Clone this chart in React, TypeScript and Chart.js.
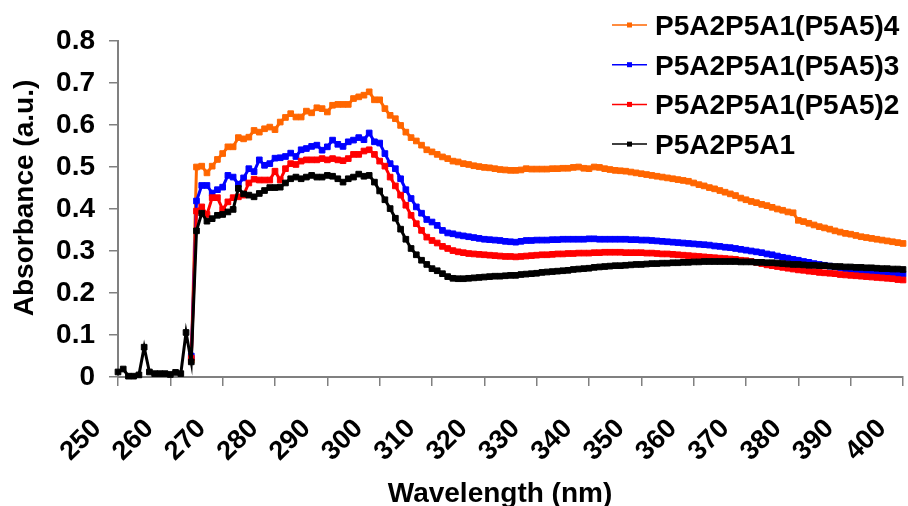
import React, { useEffect, useRef } from 'react';
import { Chart, registerables } from 'chart.js';

Chart.register(...registerables);

const FONT = "'Liberation Sans', Arial, Helvetica, sans-serif";

// Wavelength grid (nm), 1 nm steps
const WL_START_BLACK = 250;
const WL_START_OTHERS = 264;

const seriesLabels = ['P5A2P5A1', 'P5A2P5A1(P5A5)2', 'P5A2P5A1(P5A5)3', 'P5A2P5A1(P5A5)4'];
const seriesColors = ['#000000', '#FF0000', '#0000FF', '#FF6600'];

const xTickValues = [250, 260, 270, 280, 290, 300, 310, 320, 330, 340, 350, 360, 370, 380, 390, 400];
const yTickValues = [0, 0.1, 0.2, 0.3, 0.4, 0.5, 0.6, 0.7, 0.8];

// P5A2P5A1 (250-400 nm)
const absP5A2P5A1 = [
  0.012, 0.019, 0.002, 0.002, 0.005, 0.071, 0.012, 0.008, 0.008, 0.008, 0.006, 0.011, 0.008, 0.106, 0.036,
  0.348, 0.390, 0.371, 0.377, 0.385, 0.387, 0.393, 0.399, 0.449, 0.436,
  0.433, 0.429, 0.437, 0.444, 0.451, 0.451, 0.452, 0.462, 0.472, 0.476,
  0.472, 0.476, 0.480, 0.476, 0.476, 0.480, 0.478, 0.472, 0.464, 0.472,
  0.476, 0.483, 0.478, 0.480, 0.464, 0.443, 0.422, 0.401, 0.378, 0.352,
  0.328, 0.306, 0.291, 0.278, 0.268, 0.258, 0.253, 0.246, 0.239, 0.235,
  0.234, 0.234, 0.235, 0.236, 0.237, 0.238, 0.239, 0.240, 0.240, 0.241,
  0.242, 0.242, 0.244, 0.245, 0.246, 0.247, 0.249, 0.250, 0.251, 0.252,
  0.253, 0.254, 0.256, 0.257, 0.258, 0.259, 0.261, 0.262, 0.263, 0.264,
  0.265, 0.265, 0.266, 0.267, 0.268, 0.268, 0.269, 0.270, 0.270, 0.271,
  0.271, 0.272, 0.272, 0.273, 0.273, 0.274, 0.274, 0.275, 0.275, 0.275,
  0.275, 0.275, 0.275, 0.275, 0.274, 0.274, 0.274, 0.273, 0.273, 0.272,
  0.272, 0.271, 0.270, 0.269, 0.268, 0.268, 0.267, 0.266, 0.266, 0.265,
  0.265, 0.264, 0.263, 0.263, 0.262, 0.262, 0.261, 0.261, 0.260, 0.260,
  0.259, 0.258, 0.258, 0.257, 0.257, 0.256,
];

// P5A2P5A1(P5A5)2 (264-400 nm)
const absP5A5x2 = [
  0.045,
  0.395, 0.405, 0.387, 0.427, 0.427, 0.399, 0.417, 0.427, 0.429, 0.433,
  0.462, 0.471, 0.469, 0.469, 0.469, 0.490, 0.469, 0.496, 0.508, 0.506,
  0.514, 0.517, 0.517, 0.517, 0.520, 0.517, 0.520, 0.517, 0.515, 0.520,
  0.530, 0.530, 0.538, 0.541, 0.530, 0.514, 0.502, 0.476, 0.455, 0.433,
  0.409, 0.385, 0.365, 0.349, 0.333, 0.325, 0.319, 0.311, 0.306, 0.301,
  0.298, 0.296, 0.294, 0.293, 0.292, 0.291, 0.290, 0.289, 0.288, 0.287,
  0.287, 0.286, 0.287, 0.288, 0.289, 0.290, 0.291, 0.291, 0.292, 0.293,
  0.293, 0.294, 0.294, 0.295, 0.295, 0.295, 0.296, 0.296, 0.297, 0.297,
  0.297, 0.297, 0.296, 0.296, 0.296, 0.296, 0.295, 0.295, 0.294, 0.293,
  0.293, 0.292, 0.291, 0.290, 0.289, 0.288, 0.287, 0.286, 0.285, 0.284,
  0.283, 0.282, 0.281, 0.280, 0.278, 0.277, 0.275, 0.273, 0.270, 0.267,
  0.265, 0.263, 0.261, 0.259, 0.257, 0.255, 0.254, 0.252, 0.251, 0.249,
  0.248, 0.247, 0.246, 0.244, 0.243, 0.242, 0.241, 0.240, 0.239, 0.238,
  0.237, 0.236, 0.235, 0.234, 0.232, 0.231,
];

// P5A2P5A1(P5A5)3 (264-400 nm)
const absP5A5x3 = [
  0.050,
  0.419, 0.456, 0.456, 0.438, 0.446, 0.452, 0.480, 0.476, 0.459, 0.474,
  0.496, 0.489, 0.517, 0.504, 0.508, 0.521, 0.522, 0.525, 0.533, 0.525,
  0.541, 0.544, 0.549, 0.552, 0.540, 0.548, 0.564, 0.554, 0.549, 0.560,
  0.564, 0.570, 0.565, 0.581, 0.560, 0.557, 0.532, 0.508, 0.496, 0.472,
  0.446, 0.425, 0.405, 0.390, 0.375, 0.369, 0.361, 0.349, 0.343, 0.341,
  0.338, 0.336, 0.334, 0.332, 0.330, 0.328, 0.327, 0.326, 0.325, 0.323,
  0.322, 0.321, 0.323, 0.325, 0.325, 0.326, 0.326, 0.326, 0.327, 0.327,
  0.328, 0.328, 0.328, 0.328, 0.328, 0.329, 0.329, 0.328, 0.328, 0.328,
  0.328, 0.328, 0.328, 0.327, 0.327, 0.326, 0.326, 0.325, 0.324, 0.323,
  0.322, 0.321, 0.320, 0.319, 0.318, 0.317, 0.316, 0.315, 0.314, 0.312,
  0.311, 0.309, 0.308, 0.306, 0.304, 0.302, 0.300, 0.298, 0.296, 0.293,
  0.291, 0.288, 0.285, 0.283, 0.280, 0.278, 0.275, 0.273, 0.270, 0.268,
  0.266, 0.264, 0.262, 0.260, 0.258, 0.256, 0.254, 0.253, 0.252, 0.251,
  0.250, 0.249, 0.248, 0.247, 0.246, 0.245,
];

// P5A2P5A1(P5A5)4 (264-400 nm)
const absP5A5x4 = [
  0.040,
  0.500, 0.502, 0.486, 0.502, 0.518, 0.532, 0.548, 0.548, 0.570, 0.567,
  0.571, 0.587, 0.583, 0.591, 0.595, 0.589, 0.607, 0.618, 0.627, 0.619,
  0.619, 0.633, 0.629, 0.641, 0.639, 0.631, 0.647, 0.649, 0.649, 0.649,
  0.663, 0.667, 0.671, 0.679, 0.660, 0.660, 0.639, 0.623, 0.615, 0.599,
  0.583, 0.570, 0.562, 0.552, 0.541, 0.536, 0.530, 0.524, 0.520, 0.514,
  0.512, 0.508, 0.506, 0.503, 0.501, 0.499, 0.498, 0.496, 0.494, 0.493,
  0.492, 0.492, 0.493, 0.496, 0.495, 0.495, 0.495, 0.495, 0.496, 0.496,
  0.497, 0.497, 0.499, 0.500, 0.497, 0.496, 0.500, 0.499, 0.496, 0.494,
  0.492, 0.491, 0.490, 0.488, 0.486, 0.484, 0.482, 0.480, 0.478, 0.476,
  0.474, 0.472, 0.470, 0.468, 0.466, 0.462, 0.458, 0.455, 0.451, 0.448,
  0.444, 0.440, 0.436, 0.432, 0.426, 0.422, 0.418, 0.415, 0.411, 0.408,
  0.404, 0.400, 0.397, 0.393, 0.391, 0.373, 0.370, 0.366, 0.362, 0.358,
  0.355, 0.352, 0.348, 0.345, 0.342, 0.340, 0.337, 0.334, 0.332, 0.330,
  0.328, 0.326, 0.324, 0.322, 0.320, 0.318,
];

const xTitle = 'Wavelength (nm)';
const yTitle = 'Absorbance (a.u.)';

const toPoints = (vals: number[], start: number) => vals.map((v, i) => ({ x: start + i, y: v }));

const overlayPlugin = {
  id: 'overlay',
  afterDraw(chart: any) {
    const ctx = chart.ctx as CanvasRenderingContext2D;
    ctx.save();
    // axis titles
    ctx.fillStyle = '#000';
    ctx.font = `bold 28px ${FONT}`;
    ctx.textAlign = 'center';
    ctx.textBaseline = 'alphabetic';
    ctx.fillText(xTitle, 500, 502);
    ctx.save();
    ctx.translate(33, 198);
    ctx.rotate(-Math.PI / 2);
    ctx.fillText(yTitle, 0, 0);
    ctx.restore();
    // legend (reverse dataset order)
    const ds = chart.data.datasets;
    const order = [3, 2, 1, 0];
    order.forEach((di: number, row: number) => {
      const d = ds[di];
      const cy = 25 + row * 39.7;
      ctx.strokeStyle = d.borderColor;
      ctx.lineWidth = 1.5;
      ctx.beginPath();
      ctx.moveTo(612, cy);
      ctx.lineTo(647, cy);
      ctx.stroke();
      ctx.fillStyle = d.borderColor;
      ctx.fillRect(629.5 - 2.5, cy - 2.5, 5, 5);
      ctx.fillStyle = '#000';
      ctx.font = `bold 28px ${FONT}`;
      ctx.textAlign = 'left';
      ctx.textBaseline = 'alphabetic';
      ctx.fillText(d.label, 655, cy + 10);
    });
    ctx.restore();
  },
};

export default function App() {
  const ref = useRef<HTMLCanvasElement>(null);
  useEffect(() => {
    const allSeries = [
      toPoints(absP5A2P5A1, WL_START_BLACK),
      toPoints(absP5A5x2, WL_START_OTHERS),
      toPoints(absP5A5x3, WL_START_OTHERS),
      toPoints(absP5A5x4, WL_START_OTHERS),
    ];
    const axisGray = '#808080';
    const chart = new Chart(ref.current as HTMLCanvasElement, {
      type: 'line',
      data: {
        datasets: allSeries.map((pts, i) => ({
          label: seriesLabels[i],
          data: pts,
          borderColor: seriesColors[i],
          backgroundColor: seriesColors[i],
          borderWidth: 3,
          pointStyle: 'rect',
          pointRadius: 4,
          pointBorderWidth: 1,
          pointBorderColor: seriesColors[i],
          pointBackgroundColor: seriesColors[i],
          tension: 0,
          fill: false,
          clip: false as any,
        })),
      },
      options: {
        responsive: false,
        animation: false,
        devicePixelRatio: 1,
        layout: { padding: { top: 41, left: 0, right: 0, bottom: 0 } },
        plugins: { legend: { display: false }, tooltip: { enabled: false } },
        scales: {
          x: {
            type: 'linear',
            min: 250,
            max: 400,
            afterFit: (s: any) => {
              s.height = 129;
              s.paddingLeft = 0;
              s.paddingRight = 0;
            },
            afterBuildTicks: (s: any) => {
              s.ticks = xTickValues.map((v) => ({ value: v }));
            },
            ticks: {
              minRotation: 45,
              maxRotation: 45,
              autoSkip: false,
              padding: 27,
              labelOffset: -21,
              color: '#000',
              font: { family: FONT, size: 27, weight: 'bold' },
              callback: (v: any) => String(v),
            },
            grid: { display: true, drawOnChartArea: false, drawTicks: true, tickLength: 9, color: axisGray, lineWidth: 1.5 },
            border: { display: true, color: axisGray, width: 2 },
          },
          y: {
            min: 0,
            max: 0.8,
            afterFit: (s: any) => {
              s.width = 118;
            },
            afterBuildTicks: (s: any) => {
              s.ticks = yTickValues.map((v) => ({ value: v }));
            },
            ticks: {
              padding: 14,
              color: '#000',
              font: { family: FONT, size: 28, weight: 'bold' },
              callback: (v: any) => (Number(v) === 0 ? '0' : Number(v).toFixed(1)),
            },
            grid: { display: true, drawOnChartArea: false, drawTicks: true, tickLength: 9, color: axisGray, lineWidth: 1.5 },
            border: { display: true, color: axisGray, width: 2 },
          },
        },
      } as any,
      plugins: [overlayPlugin],
    });
    return () => chart.destroy();
  }, []);
  return (
    <div style={{ position: 'fixed', left: 0, top: 0, width: 908, height: 506, background: '#fff', overflow: 'hidden' }}>
      <canvas ref={ref} width={908} height={506} style={{ display: 'block' }} />
    </div>
  );
}
